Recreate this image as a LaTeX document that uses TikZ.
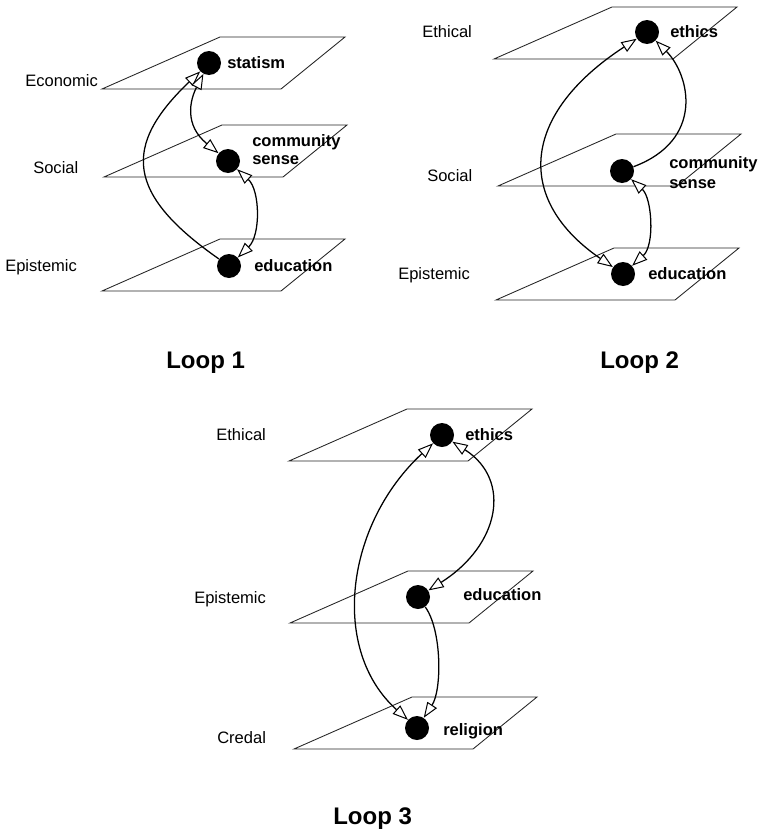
\documentclass[tikz,border=0pt]{standalone}
\usepackage{fontspec}
\setmainfont{Liberation Sans}
\usetikzlibrary{arrows.meta}
\begin{document}
\begin{tikzpicture}[x=0.75pt,y=-0.75pt,
  planeline/.style={draw=black!85,line width=0.65pt},
  dot/.style={circle,fill=black,inner sep=0pt,minimum size=18pt},
  lvltext/.style={anchor=base west,inner sep=0pt,font=\fontsize{12.4}{14}\selectfont},
  conctext/.style={anchor=base west,inner sep=0pt,font=\fontsize{12.4}{14}\selectfont\bfseries},
  looptitle/.style={anchor=base west,inner sep=0pt,font=\fontsize{18}{20}\selectfont\bfseries},
  linkline/.style={line width=0.95pt},
  head/.tip={Triangle[fill=white,length=11.5pt,width=8.5pt,line width=0.75pt]},
  onehead/.style={linkline,-head},
  twoheads/.style={linkline,head-head},
  plane/.pic={\path[planeline] (0,0) -- (179,0) -- (243,-52) -- (118,-52) -- cycle;}]
\useasboundingbox (0,0) rectangle (761,835);

% ---------- Loop 1 ----------
\pic at (102,89) {plane};
\pic at (104,177) {plane};
\pic at (102,291) {plane};
\node[lvltext] (l1lab1) at (25,86) {Economic};
\node[lvltext] (l1lab2) at (33,173) {Social};
\node[lvltext] (l1lab3) at (5,271) {Epistemic};
\node[dot] (l1stat) at (209,63) {};
\node[dot] (l1comm) at (228,161) {};
\node[dot] (l1edu) at (229,266) {};
\node[conctext] (l1t1) at (227,68) {statism};
\node[conctext] (l1t2) at (252,146) {community};
\node[conctext] (l1t3) at (252,164) {sense};
\node[conctext] (l1t4) at (254,271) {education};
\draw[onehead] (l1edu) .. controls (126,194) and (122,146) .. (l1stat);
\draw[twoheads] (l1stat) .. controls (190,100) and (184,125) .. (l1comm);
\draw[twoheads] (l1comm) .. controls (260,190) and (261,235) .. (l1edu);
\node[looptitle] (l1title) at (166,368) {Loop 1};

% ---------- Loop 2 ----------
\pic at (494,59) {plane};
\pic at (498,186) {plane};
\pic at (496,300) {plane};
\node[lvltext] (l2lab1) at (422,37) {Ethical};
\node[lvltext] (l2lab2) at (427,181) {Social};
\node[lvltext] (l2lab3) at (398,279) {Epistemic};
\node[dot] (l2eth) at (647,32) {};
\node[dot] (l2comm) at (622,171) {};
\node[dot] (l2edu) at (623,274) {};
\node[conctext] (l2t1) at (670,37) {ethics};
\node[conctext] (l2t2) at (669,168) {community};
\node[conctext] (l2t3) at (669,188) {sense};
\node[conctext] (l2t4) at (648,279) {education};
\draw[twoheads] (l2eth) .. controls (520,115) and (515,200) .. (l2edu);
\draw[onehead] (l2comm) .. controls (705,140) and (690,75) .. (l2eth);
\draw[twoheads] (l2comm) .. controls (652,198) and (655,245) .. (l2edu);
\node[looptitle] (l2title) at (600,368) {Loop 2};

% ---------- Loop 3 ----------
\pic at (289,461) {plane};
\pic at (290,623) {plane};
\pic at (294,749) {plane};
\node[lvltext] (l3lab1) at (216,440) {Ethical};
\node[lvltext] (l3lab2) at (194,603) {Epistemic};
\node[lvltext] (l3lab3) at (217,743) {Credal};
\node[dot] (l3eth) at (442,435) {};
\node[dot] (l3edu) at (418,597) {};
\node[dot] (l3rel) at (417,728) {};
\node[conctext] (l3t1) at (465,440) {ethics};
\node[conctext] (l3t2) at (463,600) {education};
\node[conctext] (l3t3) at (443,735) {religion};
\draw[twoheads] (l3eth) .. controls (345,525) and (330,650) .. (l3rel);
\draw[twoheads] (l3eth) .. controls (512,480) and (500,545) .. (l3edu);
\draw[onehead] (l3edu) .. controls (442,630) and (442,690) .. (l3rel);
\node[looptitle] (l3title) at (333,824) {Loop 3};
\end{tikzpicture}
\end{document}
